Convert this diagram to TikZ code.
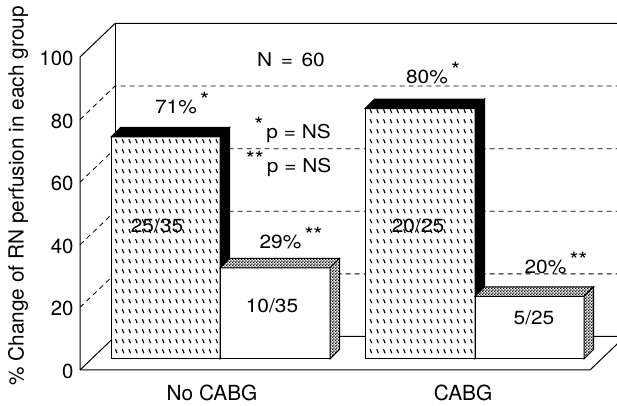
\documentclass[tikz,border=0pt]{standalone}
\usepackage{fontspec}
\setmainfont{TeX Gyre Heros}
\newfontfamily\barfont{TeX Gyre Heros}[FakeStretch=1.1]
\usetikzlibrary{patterns,positioning}

\pgfdeclarepatternformonly{slashdots}{\pgfqpoint{-0.5pt}{-0.5pt}}{\pgfqpoint{4pt}{5.5pt}}{\pgfqpoint{3.35pt}{5pt}}{
  \pgfsetlinewidth{0.55pt}
  \pgfpathmoveto{\pgfqpoint{0.8pt}{3.4pt}}
  \pgfpathlineto{\pgfqpoint{1.6pt}{1.4pt}}
  \pgfusepath{stroke}}
\pgfdeclarepatternformonly{finechecker}{\pgfqpoint{0pt}{0pt}}{\pgfqpoint{1.6pt}{1.6pt}}{\pgfqpoint{1.6pt}{1.6pt}}{
  \pgfpathrectangle{\pgfqpoint{0pt}{0pt}}{\pgfqpoint{0.8pt}{0.8pt}}
  \pgfpathrectangle{\pgfqpoint{0.8pt}{0.8pt}}{\pgfqpoint{0.8pt}{0.8pt}}
  \pgfusepath{fill}}
\newcommand{\staron}[1]{\,\raisebox{0.6ex}{\fontsize{10.5}{11}\selectfont #1}}

\begin{document}
\begin{tikzpicture}[x=0.5pt, y=-0.5pt, line width=0.5pt]
\tikzstyle{gridline} = [dashed, dash pattern=on 2.5pt off 2pt, line width=0.4pt]
\tikzstyle{frontface} = [draw=black, fill=white]
\tikzstyle{hatchface} = [draw=black, fill=white, postaction={pattern=slashdots}]
\tikzstyle{darkface} = [draw=black, fill=black]
\tikzstyle{checkface} = [draw=black, fill=white, postaction={pattern=finechecker}]
\tikzstyle{vallabel} = [font=\barfont\fontsize{9.5}{11}\selectfont, inner sep=1pt]
\tikzstyle{axislabel} = [font=\fontsize{10.4}{12}\selectfont, inner sep=1pt]
\tikzstyle{ticklabel} = [font=\fontsize{10.2}{12}\selectfont, anchor=east, inner sep=1pt]
\useasboundingbox (0,0) rectangle (617,406);
\clip (0,0) rectangle (617,406);
\foreach \v in {20,40,60,80}
  \draw[gridline] (80,{370-3.13*\v}) -- (115,{336.5-3.13*\v}) -- (617,{336.5-3.13*\v});
\draw (80,370) -- (80,57) -- (115,23.5) -- (617,23.5);
\draw (115,23.5) -- (115,336.5);
\draw (80,370) -- (115,336.5) -- (617,336.5);
\draw (80,370) -- (590,370) -- (625,336.5);
\foreach \v in {0,20,...,100}
  \node[ticklabel] (tick\v) at (76,{371.5-3.13*\v}) {\v};
\foreach \xl/\xr/\yt/\fc/\sc in {111/220/137/hatchface/darkface, 220/330/268/frontface/checkface, 365/475/108.6/hatchface/darkface, 475/584/296.4/frontface/checkface} {
  \draw[\fc] (\xl,359) rectangle (\xr,\yt);
  \draw[\sc] (\xl,\yt) -- ({\xl+9.5},{\yt-9.5}) -- ({\xr+9.5},{\yt-9.5}) -- (\xr,\yt) -- cycle;
  \draw[\sc] (\xr,\yt) -- ({\xr+9.5},{\yt-9.5}) -- ({\xr+9.5},349.5) -- (\xr,359) -- cycle;
}
\node[vallabel] (nsize) at (291,60) {N\hspace{0.45em}=\hspace{0.45em}60};
\node[vallabel] (pct71) at (182,103) {71\%\staron{*}};
\node[vallabel] (pns1) at (291,130) {\staron{*}\,p = NS};
\node[vallabel] (pns2) at (287,164) {\staron{**}\,p = NS};
\node[vallabel] (pct80) at (433,73) {80\%\staron{*}};
\node[vallabel] (pct29) at (291,238) {29\%\staron{**}};
\node[vallabel] (pct20) at (556,263) {20\%\staron{**}};
\node[vallabel] (frac1) at (157,226) {25/35};
\node[vallabel] (frac2) at (272,306) {10/35};
\node[vallabel] (frac3) at (418,226) {20/25};
\node[vallabel] (frac4) at (534,318) {5/25};
\node[axislabel] (catno) at (212,393) {No CABG};
\node[axislabel] (catyes) at (463,393) {CABG};
\node[axislabel, rotate=90] (ytitle) at (18,196) {\% Change of RN perfusion in each group};
\end{tikzpicture}
\end{document}
